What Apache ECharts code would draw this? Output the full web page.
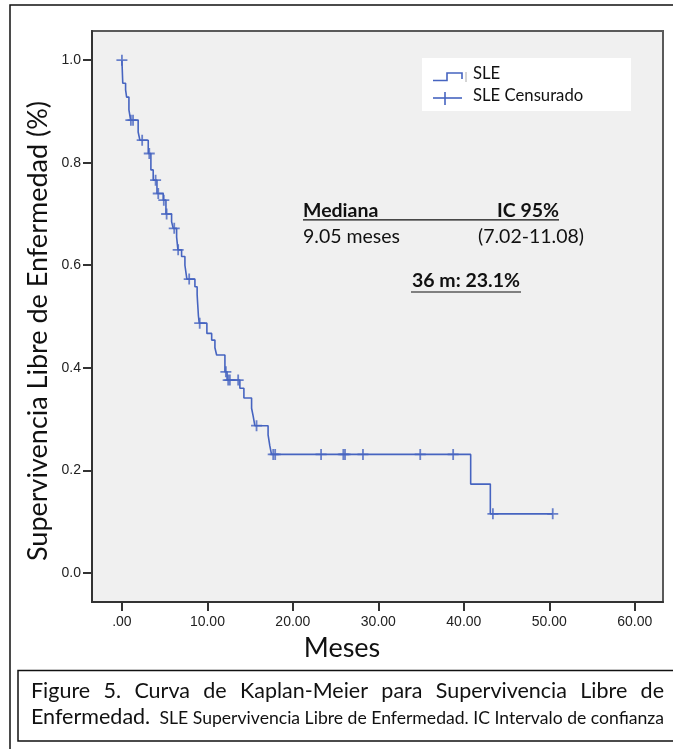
<!DOCTYPE html>
<html>
<head>
<meta charset="utf-8">
<script src="https://cdn.jsdelivr.net/npm/echarts@6/dist/echarts.min.js"></script>
<style>
  html, body { margin: 0; padding: 0; background: #ffffff; }
  #chart { width: 673px; height: 749px; }
</style>
</head>
<body>
<div id="chart"></div>
<script>
// Kaplan-Meier estimate: survival after each event time (months)
const eventTimes = [0.1, 0.43, 0.55, 0.82, 1.02, 1.9, 2.1, 3.08, 3.39, 3.66, 4.1, 4.83, 5.15, 5.81, 6.0, 6.4, 6.55, 6.98, 7.37, 7.6, 8.54, 8.8, 8.85, 8.9, 8.95, 9.05, 9.94, 10.5, 10.88, 11.08, 12.05, 12.3, 13.8, 14.27, 15.17, 15.36, 15.55, 17.1, 17.3, 17.5, 40.8, 43.1];
const survival = [0.955, 0.942, 0.928, 0.903, 0.883, 0.860, 0.844, 0.818, 0.786, 0.766, 0.740, 0.727, 0.700, 0.685, 0.672, 0.655, 0.630, 0.617, 0.600, 0.573, 0.558, 0.543, 0.528, 0.515, 0.501, 0.487, 0.467, 0.454, 0.439, 0.425, 0.392, 0.376, 0.360, 0.341, 0.321, 0.305, 0.287, 0.269, 0.248, 0.231, 0.173, 0.115];
// Censored observations (months)
const censorTimes = [0, 1.05, 1.3, 2.37, 3.2, 3.94, 4.25, 4.9, 5.23, 6.12, 6.58, 7.87, 9.1, 12.16, 12.43, 12.63, 13.6, 15.75, 17.7, 17.93, 23.3, 25.9, 26.1, 28.2, 34.9, 38.75, 43.4, 50.4];
// Axis ticks
const xTicks = [0, 10, 20, 30, 40, 50, 60];
const yTicks = [0, 0.2, 0.4, 0.6, 0.8, 1.0];

const followUpEnd = 50.4;
const lineColor = '#4664c0';

function survivalAt(t) {
  let s = 1;
  for (let i = 0; i < eventTimes.length; i++) {
    if (eventTimes[i] <= t) s = survival[i];
  }
  return s;
}

const stepData = [[0, 1]];
eventTimes.forEach((t, i) => stepData.push([t, survival[i]]));
stepData.push([followUpEnd, survivalAt(followUpEnd)]);

const censorData = censorTimes.map(t => [t, survivalAt(t)]);

const plusPath = 'path://M-0.9,-5.5H0.9V-0.9H5.5V0.9H0.9V5.5H-0.9V0.9H-5.5V-0.9H-0.9Z';

const sans = 'Lato, "Open Sans", sans-serif';
const arial = '"Liberation Sans", Arial, sans-serif';

// Justified first caption line: spread words between the left and right margins
const captionLine1 = 'Figure 5. Curva de Kaplan-Meier para Supervivencia Libre de';
const captionFont = '21.5px ' + sans;
const captionLeft = 31, captionRight = 664;
const measureCtx = document.createElement('canvas').getContext('2d');
measureCtx.font = captionFont;
const words = captionLine1.split(' ');
const widths = words.map(w => measureCtx.measureText(w).width);
const totalW = widths.reduce((a, b) => a + b, 0);
const gap = (captionRight - captionLeft - totalW) / (words.length - 1);
const captionWords = [];
let cx = captionLeft;
words.forEach((w, i) => {
  captionWords.push({ type: 'text', x: cx, y: 691.5, style: { text: w, font: captionFont, fill: '#111', verticalAlign: 'middle' }, z: 11 });
  cx += widths[i] + gap;
});

const chart = echarts.init(document.getElementById('chart'), null, { renderer: 'canvas' });

chart.setOption({
  backgroundColor: '#ffffff',
  animation: false,
  grid: {
    left: 92, top: 31, right: 10, bottom: 147,
    show: true,
    backgroundColor: '#f0f0f0',
    borderColor: '#5a5a5a',
    borderWidth: 2
  },
  xAxis: {
    type: 'value',
    min: -3.5, max: 63.3,
    axisLine: { show: true, onZero: false, lineStyle: { color: '#333', width: 2 } },
    axisTick: { show: true, length: 9, lineStyle: { color: '#333', width: 2 }, customValues: xTicks },
    axisLabel: {
      fontFamily: arial, fontSize: 14, color: '#222', margin: 13,
      customValues: xTicks,
      formatter: v => v === 0 ? '.00' : v.toFixed(2)
    },
    splitLine: { show: false }
  },
  yAxis: {
    type: 'value',
    min: -0.057, max: 1.057,
    axisLine: { show: true, onZero: false, lineStyle: { color: '#333', width: 2 } },
    axisTick: { show: true, length: 9, lineStyle: { color: '#333', width: 2 }, customValues: yTicks },
    axisLabel: {
      fontFamily: arial, fontSize: 14, color: '#222', margin: 11,
      customValues: yTicks,
      formatter: v => v.toFixed(1)
    },
    splitLine: { show: false }
  },
  series: [
    {
      name: 'SLE',
      type: 'line',
      step: 'end',
      data: stepData,
      showSymbol: false,
      lineStyle: { color: lineColor, width: 1.6 },
      z: 3
    },
    {
      name: 'SLE Censurado',
      type: 'scatter',
      data: censorData,
      symbol: plusPath,
      symbolSize: 11,
      itemStyle: { color: lineColor },
      z: 4
    }
  ],
  graphic: [
    // outer frame
    { type: 'rect', shape: { x: 10, y: 5, width: 700, height: 760 }, style: { fill: null, stroke: '#111', lineWidth: 1.5 }, silent: true },
    // axis titles
    { type: 'text', x: 38, y: 331, rotation: Math.PI / 2, style: { text: 'Supervivencia Libre de Enfermedad (%)', font: '27px ' + sans, fill: '#111', align: 'center', verticalAlign: 'middle' }, z: 11 },
    { type: 'text', x: 342, y: 648, style: { text: 'Meses', font: '27px ' + sans, fill: '#111', align: 'center', verticalAlign: 'middle' }, z: 11 },
    // legend
    { type: 'rect', shape: { x: 422, y: 58, width: 209, height: 53 }, style: { fill: '#ffffff' }, z: 10 },
    { type: 'polyline', shape: { points: [[433, 80.5], [447, 80.5], [447, 73], [462, 73], [462, 79]] }, style: { stroke: lineColor, lineWidth: 1.6, fill: null }, z: 11 },
    { type: 'line', shape: { x1: 466, y1: 72, x2: 466, y2: 82 }, style: { stroke: '#aaa', lineWidth: 1 }, z: 11 },
    { type: 'line', shape: { x1: 433, y1: 98, x2: 462, y2: 98 }, style: { stroke: lineColor, lineWidth: 1.6 }, z: 11 },
    { type: 'line', shape: { x1: 445, y1: 92, x2: 445, y2: 105 }, style: { stroke: lineColor, lineWidth: 1.6 }, z: 11 },
    { type: 'text', x: 473, y: 74, style: { text: 'SLE', font: '16.7px ' + sans, fill: '#111', verticalAlign: 'middle' }, z: 11 },
    { type: 'text', x: 473, y: 96, style: { text: 'SLE Censurado', font: '16.7px ' + sans, fill: '#111', verticalAlign: 'middle' }, z: 11 },
    // median annotation
    { type: 'text', x: 303, y: 211, style: { text: 'Mediana', font: 'bold 19.5px ' + sans, fill: '#111', verticalAlign: 'middle' }, z: 11 },
    { type: 'text', x: 559, y: 211, style: { text: 'IC 95%', font: 'bold 19.5px ' + sans, fill: '#111', verticalAlign: 'middle', align: 'right' }, z: 11 },
    { type: 'line', shape: { x1: 303, y1: 219.8, x2: 559, y2: 219.8 }, style: { stroke: '#111', lineWidth: 1.2 }, z: 11 },
    { type: 'text', x: 303, y: 236.5, style: { text: '9.05 meses', font: '19.5px ' + sans, fill: '#111', verticalAlign: 'middle' }, z: 11 },
    { type: 'text', x: 584, y: 236.5, style: { text: '(7.02-11.08)', font: '19.5px ' + sans, fill: '#111', verticalAlign: 'middle', align: 'right' }, z: 11 },
    { type: 'text', x: 466, y: 281, style: { text: '36 m: 23.1%', font: 'bold 19.5px ' + sans, fill: '#111', verticalAlign: 'middle', align: 'center' }, z: 11 },
    { type: 'line', shape: { x1: 411, y1: 292, x2: 521, y2: 292 }, style: { stroke: '#111', lineWidth: 1.2 }, z: 11 },
    // caption box
    { type: 'rect', shape: { x: 18, y: 670.5, width: 700, height: 70.5 }, style: { fill: '#ffffff', stroke: '#111', lineWidth: 1.5 }, z: 10 },
    ...captionWords,
    { type: 'text', x: 31, y: 717, style: { text: 'Enfermedad.', font: captionFont, fill: '#111', verticalAlign: 'middle' }, z: 11 },
    { type: 'text', x: 664, y: 718.5, style: { text: 'SLE Supervivencia Libre de Enfermedad. IC Intervalo de confianza', font: '17.6px ' + sans, fill: '#111', verticalAlign: 'middle', align: 'right' }, z: 11 }
  ]
});
</script>
</body>
</html>
